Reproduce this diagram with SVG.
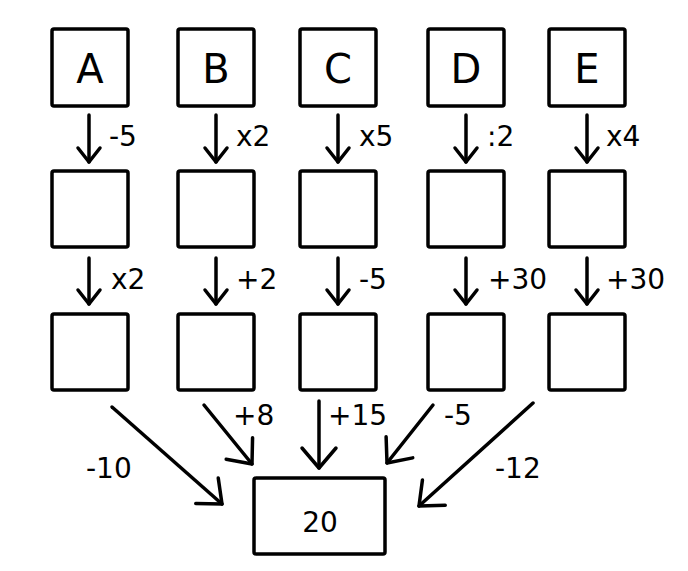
<svg xmlns="http://www.w3.org/2000/svg" width="688" height="571" viewBox="0 0 688 571">
<style>
.box{fill:#fff;stroke:#000;stroke-width:3.5;stroke-linejoin:round}
.ln{fill:none;stroke:#000;stroke-width:3.5;stroke-linecap:round}
.big{font-family:"DejaVu Sans",Verdana,sans-serif;font-size:40px;text-anchor:middle;fill:#000}
.lbl{font-family:"DejaVu Sans",Verdana,sans-serif;font-size:28px;fill:#000}
</style>
<defs>
<marker id="hs" markerUnits="userSpaceOnUse" viewBox="-20 -15 22 30" refX="0" refY="0" markerWidth="22" markerHeight="30" orient="auto" overflow="visible">
<path d="M-14,-11 L0,0 L-14,11" fill="none" stroke="#000" stroke-width="3.5" stroke-linecap="round" stroke-linejoin="round"/>
</marker>
<marker id="hl" markerUnits="userSpaceOnUse" viewBox="-25 -20 28 40" refX="0" refY="0" markerWidth="28" markerHeight="40" orient="auto" overflow="visible">
<path d="M-20,-17 L0,0 L-20,17" fill="none" stroke="#000" stroke-width="3.5" stroke-linecap="round" stroke-linejoin="round"/>
</marker>
</defs>
<g id="nodeA"><rect class="box" x="52" y="29" width="76" height="77" rx="2"/><text class="big" x="90" y="83">A</text></g>
<g id="nodeB"><rect class="box" x="178" y="29" width="76" height="77" rx="2"/><text class="big" x="216" y="83">B</text></g>
<g id="nodeC"><rect class="box" x="300" y="29" width="76" height="77" rx="2"/><text class="big" x="338" y="83">C</text></g>
<g id="nodeD"><rect class="box" x="428" y="29" width="76" height="77" rx="2"/><text class="big" x="466" y="83">D</text></g>
<g id="nodeE"><rect class="box" x="549" y="29" width="76" height="77" rx="2"/><text class="big" x="587" y="83">E</text></g>
<g id="nodeA2"><rect class="box" x="52" y="171" width="76" height="76" rx="2"/></g>
<g id="nodeB2"><rect class="box" x="178" y="171" width="76" height="76" rx="2"/></g>
<g id="nodeC2"><rect class="box" x="300" y="171" width="76" height="76" rx="2"/></g>
<g id="nodeD2"><rect class="box" x="428" y="171" width="76" height="76" rx="2"/></g>
<g id="nodeE2"><rect class="box" x="549" y="171" width="76" height="76" rx="2"/></g>
<g id="nodeA3"><rect class="box" x="52" y="314" width="76" height="76" rx="2"/></g>
<g id="nodeB3"><rect class="box" x="178" y="314" width="76" height="76" rx="2"/></g>
<g id="nodeC3"><rect class="box" x="300" y="314" width="76" height="76" rx="2"/></g>
<g id="nodeD3"><rect class="box" x="428" y="314" width="76" height="76" rx="2"/></g>
<g id="nodeE3"><rect class="box" x="549" y="314" width="76" height="76" rx="2"/></g>
<g id="nodeResult"><rect class="box" x="254" y="478" width="131" height="76" rx="2"/><text class="lbl" x="320" y="532" text-anchor="middle">20</text></g>
<g id="connectors">
<line class="ln" x1="89" y1="115" x2="89" y2="162" marker-end="url(#hs)"/>
<line class="ln" x1="216" y1="115" x2="216" y2="162" marker-end="url(#hs)"/>
<line class="ln" x1="338" y1="115" x2="338" y2="162" marker-end="url(#hs)"/>
<line class="ln" x1="466" y1="115" x2="466" y2="162" marker-end="url(#hs)"/>
<line class="ln" x1="587" y1="115" x2="587" y2="162" marker-end="url(#hs)"/>
<line class="ln" x1="89" y1="258" x2="89" y2="304" marker-end="url(#hs)"/>
<line class="ln" x1="216" y1="258" x2="216" y2="304" marker-end="url(#hs)"/>
<line class="ln" x1="338" y1="258" x2="338" y2="304" marker-end="url(#hs)"/>
<line class="ln" x1="466" y1="258" x2="466" y2="304" marker-end="url(#hs)"/>
<line class="ln" x1="587" y1="258" x2="587" y2="304" marker-end="url(#hs)"/>
<line class="ln" x1="112" y1="407" x2="222" y2="504" marker-end="url(#hl)"/>
<line class="ln" x1="204" y1="405" x2="252" y2="464" marker-end="url(#hl)"/>
<line class="ln" x1="319" y1="401" x2="319" y2="468" marker-end="url(#hl)"/>
<line class="ln" x1="433" y1="405" x2="387" y2="463" marker-end="url(#hl)"/>
<line class="ln" x1="533" y1="403" x2="419" y2="506" marker-end="url(#hl)"/>
</g>
<g id="labels">
<text class="lbl" x="109" y="146">-5</text>
<text class="lbl" x="236" y="146">x2</text>
<text class="lbl" x="359" y="146">x5</text>
<text class="lbl" x="487" y="146">:2</text>
<text class="lbl" x="606" y="146">x4</text>
<text class="lbl" x="111" y="289">x2</text>
<text class="lbl" x="236" y="289">+2</text>
<text class="lbl" x="359" y="289">-5</text>
<text class="lbl" x="488" y="289">+30</text>
<text class="lbl" x="606" y="289">+30</text>
<text class="lbl" x="86" y="478">-10</text>
<text class="lbl" x="233" y="425">+8</text>
<text class="lbl" x="328" y="425">+15</text>
<text class="lbl" x="444" y="425">-5</text>
<text class="lbl" x="495" y="478">-12</text>
</g>
</svg>
